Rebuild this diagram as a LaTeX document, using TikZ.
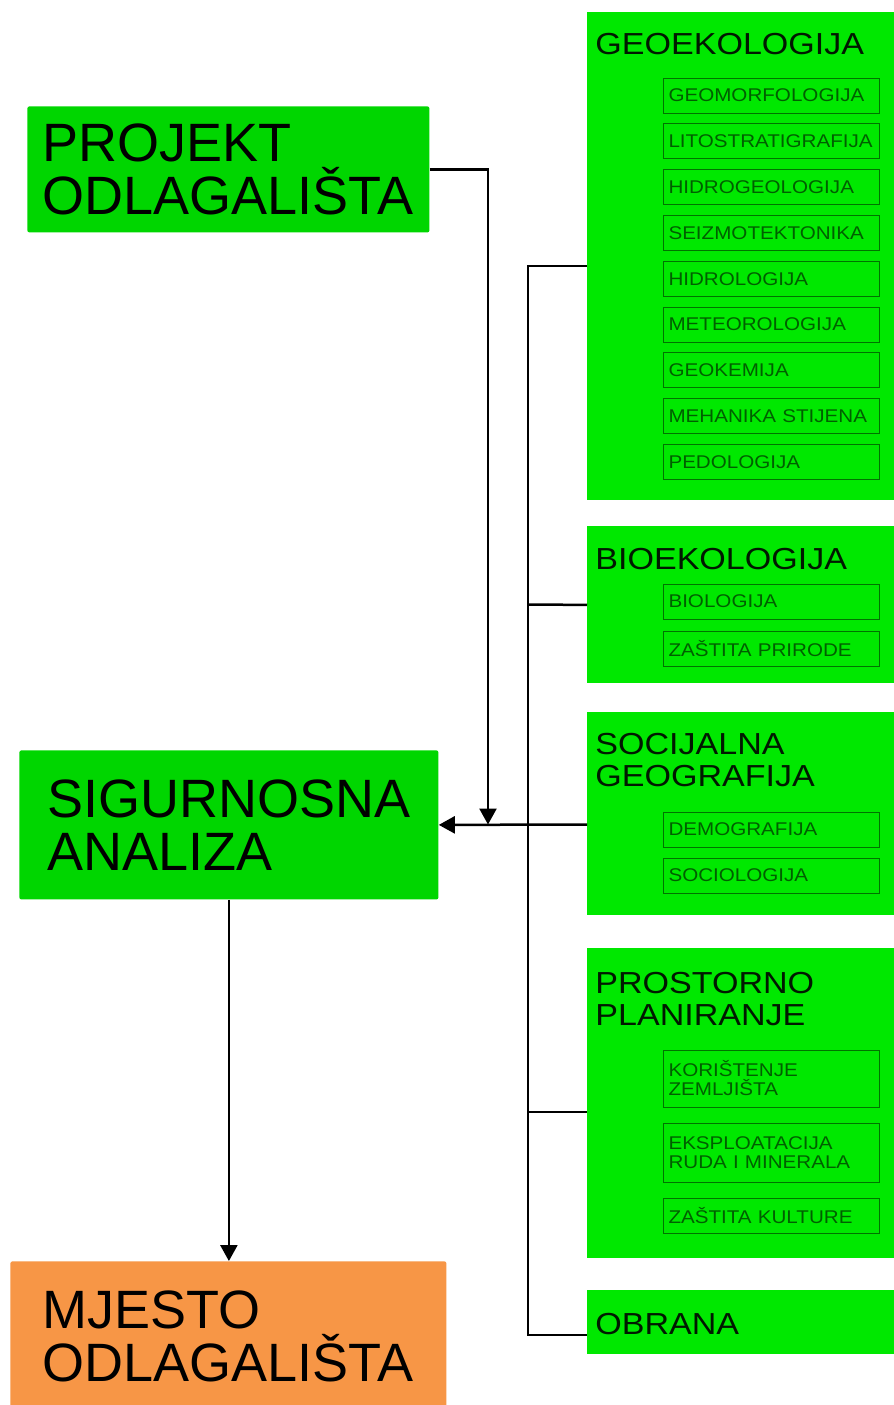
\documentclass[tikz,border=0pt]{standalone}
\usepackage{fontspec}
\setmainfont{Liberation Sans}
\newfontfamily\widesans[FakeStretch=1.12]{Liberation Sans}
\usepackage{xcolor}
\usetikzlibrary{positioning, arrows.meta, calc}

\definecolor{leftgreen}{RGB}{0,214,0}
\definecolor{panelgreen}{RGB}{0,232,0}
\definecolor{siteorange}{RGB}{247,150,70}
\definecolor{subgreen}{RGB}{0,115,0}
\definecolor{subtext}{RGB}{0,95,0}
\definecolor{titletext}{RGB}{0,25,0}

\begin{document}
\begin{tikzpicture}[x=0.5pt, y=-0.5pt,
  bigbox/.style={anchor=north west, inner sep=0pt, align=left, rounded corners=1pt,
                 font=\fontsize{27}{26.5}\selectfont},
  panel/.style={fill=panelgreen, anchor=north west, inner sep=0pt, minimum width=156.5pt},
  ptitle/.style={anchor=north west, inner sep=0pt, align=left, text=titletext,
                 font=\widesans\fontsize{15.2}{16}\selectfont},
  subbox/.style={draw=subgreen, line width=0.5pt, text=subtext, minimum width=108pt,
                 minimum height=17.5pt, text width=103pt, inner xsep=2.5pt, align=left,
                 font=\widesans\fontsize{9.2}{9.5}\selectfont},
  link/.style={line width=1.25pt, draw=black},
  arr/.style={link, -{Triangle[length=8pt, width=8.5pt]}}]

  \fill[white] (0,0) rectangle (894,1405);
  \useasboundingbox (0,0) rectangle (894,1405);

  % Left column boxes
  \node[bigbox, fill=leftgreen, minimum width=201pt, minimum height=63pt] (proj) at (27,106)
    {PROJEKT\\ODLAGALIŠTA};
  \node[bigbox, fill=leftgreen, minimum width=209.5pt, minimum height=74.5pt] (sig) at (19,750)
    {SIGURNOSNA\\ANALIZA};
  \node[bigbox, fill=siteorange, minimum width=218pt, minimum height=75pt] (mje) at (10,1261)
    {MJESTO\\ODLAGALIŠTA};

  % Right column panels
  \node[panel, minimum height=244pt]   (geo)  at (587,12)   {};
  \node[panel, minimum height=78.5pt]  (bio)  at (587,526)  {};
  \node[panel, minimum height=101.5pt] (soc)  at (587,712)  {};
  \node[panel, minimum height=155pt]   (pros) at (587,948)  {};
  \node[panel, minimum height=32pt]    (obr)  at (587,1290) {};

  \node[ptitle] (geoT)  at (595,33)   {GEOEKOLOGIJA};
  \node[ptitle] (bioT)  at (595,548)  {BIOEKOLOGIJA};
  \node[ptitle] (socT)  at (595,733)  {SOCIJALNA\\GEOGRAFIJA};
  \node[ptitle] (prosT) at (595,972)  {PROSTORNO\\PLANIRANJE};
  \node[ptitle] (obrT)  at (595,1313) {OBRANA};

  % Sub-disciplines
  \node[subbox] (geo1) at (771.5,95.5)  {GEOMORFOLOGIJA};
  \node[subbox] (geo2) at (771.5,141.3) {LITOSTRATIGRAFIJA};
  \node[subbox] (geo3) at (771.5,187.1) {HIDROGEOLOGIJA};
  \node[subbox] (geo4) at (771.5,232.9) {SEIZMOTEKTONIKA};
  \node[subbox] (geo5) at (771.5,278.7) {HIDROLOGIJA};
  \node[subbox] (geo6) at (771.5,324.5) {METEOROLOGIJA};
  \node[subbox] (geo7) at (771.5,370.3) {GEOKEMIJA};
  \node[subbox] (geo8) at (771.5,416.1) {MEHANIKA STIJENA};
  \node[subbox] (geo9) at (771.5,461.9) {PEDOLOGIJA};

  \node[subbox] (bio1) at (771.5,601.5) {BIOLOGIJA};
  \node[subbox] (bio2) at (771.5,648.5) {ZAŠTITA PRIRODE};

  \node[subbox] (soc1) at (771.5,829.5) {DEMOGRAFIJA};
  \node[subbox] (soc2) at (771.5,875.5) {SOCIOLOGIJA};

  \node[subbox, minimum height=28.5pt] (pros1) at (771.5,1078.5) {KORIŠTENJE\\ZEMLJIŠTA};
  \node[subbox, minimum height=29.5pt] (pros2) at (771.5,1152.5) {EKSPLOATACIJA\\RUDA I MINERALA};
  \node[subbox] (pros3) at (771.5,1215.5) {ZAŠTITA KULTURE};

  % Bus collecting the panels
  \coordinate (bGeo)  at (528,266);
  \coordinate (bBio)  at (528,604.5);
  \coordinate (bSoc)  at (528,824.5);
  \coordinate (bPros) at (528,1112);
  \coordinate (bObr)  at (528,1335);
  \coordinate (join)  at (488,824.5);

  \draw[link] (bGeo -| geo.west) -- (bGeo) -- (bObr) -- (bObr -| obr.west);
  \draw[link] (bio.west) -- (bBio);
  \draw[link] (bPros) -- (bPros -| pros.west);

  % Arrows into the analysis and down to the site
  \draw[arr] (bSoc -| soc.west) -- (sig.east);
  \draw[arr] (proj.east) -| (join);
  \draw[arr] (sig.south) -- (sig.south |- mje.north);
\end{tikzpicture}
\end{document}
